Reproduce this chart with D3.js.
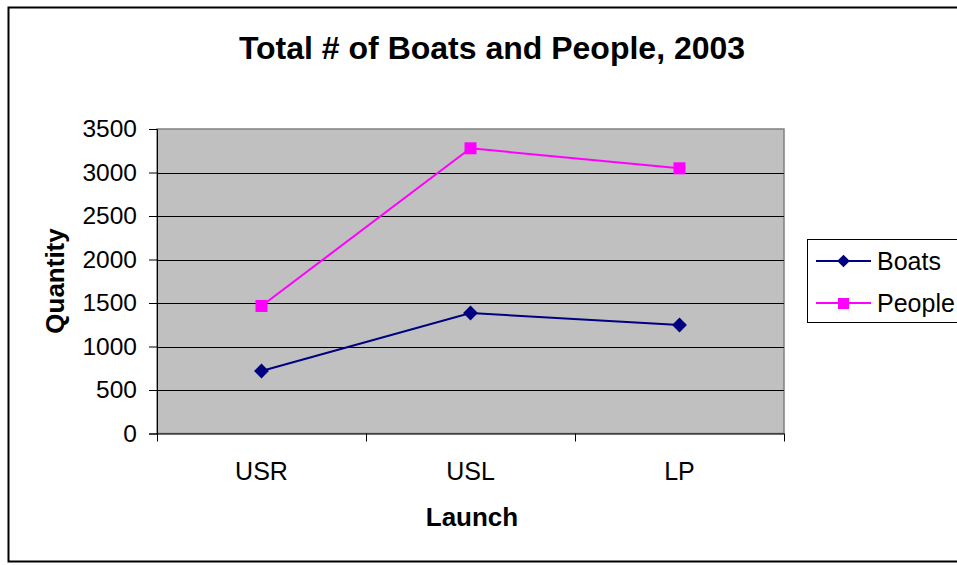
<!DOCTYPE html>
<html>
<head>
<meta charset="utf-8">
<script src="https://cdn.jsdelivr.net/npm/d3@7"></script>
<style>
  html, body { margin: 0; padding: 0; background: #fff; }
  svg { display: block; font-family: "Liberation Sans", Arial, sans-serif; }
</style>
</head>
<body>
<svg id="chart" width="957" height="565"></svg>
<script>
const categories = ["USR", "USL", "LP"];
const boats = [718, 1385, 1247];
const people = [1466, 3278, 3048];
const yTicks = [0, 500, 1000, 1500, 2000, 2500, 3000, 3500];
const seriesNames = ["Boats", "People"];
const seriesColors = ["#000080", "#FF00FF"];

const svg = d3.select("#chart");

// outer chart frame
svg.append("rect")
  .attr("x", 8.5).attr("y", 7.5)
  .attr("width", 960).attr("height", 554)
  .attr("fill", "#fff").attr("stroke", "#000").attr("stroke-width", 2);

const plot = { left: 157, top: 129, right: 784, bottom: 433.5 };

const x = d3.scaleBand().domain(categories).range([plot.left, plot.right]);
const y = d3.scaleLinear().domain([0, 3500]).range([plot.bottom, plot.top]);

// plot background
svg.append("rect")
  .attr("x", plot.left).attr("y", plot.top)
  .attr("width", plot.right - plot.left).attr("height", plot.bottom - plot.top)
  .attr("fill", "#C0C0C0").attr("stroke", "#808080").attr("stroke-width", 1.5);

// gridlines
svg.append("g").selectAll("line")
  .data(yTicks.filter(d => d > 0 && d < 3500))
  .join("line")
  .attr("x1", plot.left).attr("x2", plot.right)
  .attr("y1", d => Math.round(y(d)) + 0.5).attr("y2", d => Math.round(y(d)) + 0.5)
  .attr("stroke", "#000").attr("stroke-width", 1);

// y axis
const yAxis = svg.append("g")
  .attr("transform", `translate(${plot.left},0)`)
  .call(d3.axisLeft(y).tickValues(yTicks).tickSize(8).tickPadding(12).tickFormat(d3.format("d")));
yAxis.select(".domain").attr("stroke", "#000");
yAxis.selectAll(".tick line").attr("stroke", "#000");
yAxis.selectAll("text").attr("font-size", 24.5).attr("fill", "#000")
  .attr("font-family", "Liberation Sans, Arial, sans-serif");

// x axis: ticks at category boundaries
const xAxis = svg.append("g").attr("transform", `translate(0,${plot.bottom})`);
xAxis.append("line")
  .attr("x1", plot.left).attr("x2", plot.right)
  .attr("y1", 0.5).attr("y2", 0.5).attr("stroke", "#000");
const bounds = categories.map(c => x(c)).concat([x(categories[categories.length - 1]) + x.bandwidth()]);
xAxis.selectAll("line.tk").data(bounds).join("line").attr("class", "tk")
  .attr("x1", d => Math.round(d) + 0.5).attr("x2", d => Math.round(d) + 0.5)
  .attr("y1", 0).attr("y2", 8).attr("stroke", "#000");
xAxis.selectAll("text").data(categories).join("text")
  .attr("x", d => x(d) + x.bandwidth() / 2).attr("y", 46)
  .attr("text-anchor", "middle").attr("font-size", 25).attr("fill", "#000")
  .text(d => d);

// series lines and markers
const line = d3.line().x((d, i) => x(categories[i]) + x.bandwidth() / 2).y(d => y(d));
[boats, people].forEach((vals, si) => {
  svg.append("path").datum(vals)
    .attr("d", line).attr("fill", "none")
    .attr("stroke", seriesColors[si]).attr("stroke-width", 2);
});
svg.append("g").selectAll("path").data(boats).join("path")
  .attr("transform", (d, i) => `translate(${x(categories[i]) + x.bandwidth() / 2},${y(d)}) rotate(45)`)
  .attr("d", d3.symbol().type(d3.symbolSquare).size(110)())
  .attr("fill", seriesColors[0]);
svg.append("g").selectAll("rect").data(people).join("rect")
  .attr("x", (d, i) => x(categories[i]) + x.bandwidth() / 2 - 6)
  .attr("y", d => y(d) - 6)
  .attr("width", 12).attr("height", 12)
  .attr("fill", seriesColors[1]);

// title
svg.append("text")
  .attr("x", 492).attr("y", 59)
  .attr("text-anchor", "middle").attr("font-size", 32).attr("font-weight", "bold")
  .text("Total # of Boats and People, 2003");

// axis titles
svg.append("text")
  .attr("transform", "translate(64,281) rotate(-90)")
  .attr("text-anchor", "middle").attr("font-size", 26).attr("font-weight", "bold")
  .text("Quantity");
svg.append("text")
  .attr("x", 472).attr("y", 526)
  .attr("text-anchor", "middle").attr("font-size", 26).attr("font-weight", "bold")
  .text("Launch");

// legend
const lg = svg.append("g");
lg.append("rect")
  .attr("x", 807.5).attr("y", 239.5).attr("width", 160).attr("height", 83)
  .attr("fill", "#fff").attr("stroke", "#000").attr("stroke-width", 1);
seriesNames.forEach((name, i) => {
  const cy = 261 + i * 42;
  lg.append("line").attr("x1", 816).attr("x2", 871).attr("y1", cy).attr("y2", cy)
    .attr("stroke", seriesColors[i]).attr("stroke-width", 2);
  if (i === 0) {
    lg.append("path").attr("transform", `translate(843.5,${cy}) rotate(45)`)
      .attr("d", d3.symbol().type(d3.symbolSquare).size(80)())
      .attr("fill", seriesColors[i]);
  } else {
    lg.append("rect").attr("x", 838).attr("y", cy - 5).attr("width", 11).attr("height", 11)
      .attr("fill", seriesColors[i]);
  }
  lg.append("text").attr("x", 877).attr("y", cy + 9)
    .attr("font-size", 25).attr("fill", "#000").text(name);
});
</script>
</body>
</html>
